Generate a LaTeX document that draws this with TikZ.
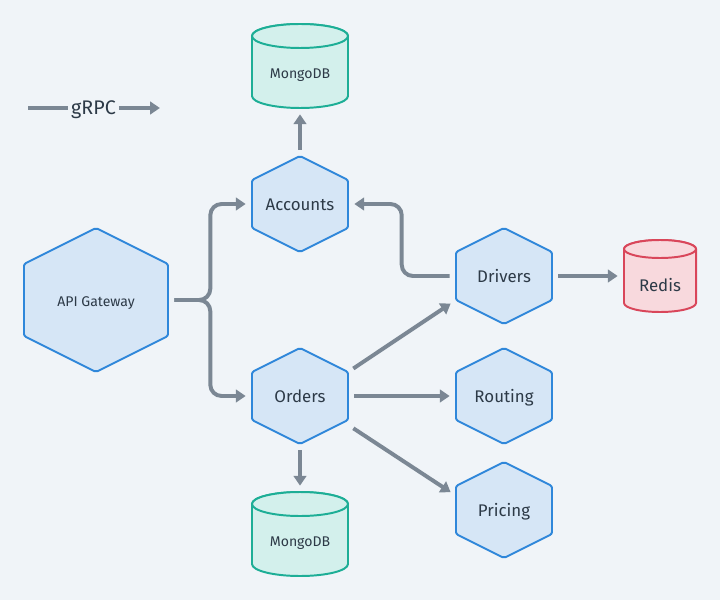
\documentclass[tikz,border=0pt]{standalone}
\usepackage{fontspec}
\setmainfont{Fira Sans}
\usetikzlibrary{calc,positioning,arrows.meta}

\definecolor{canvas}{HTML}{F0F4F8}
\definecolor{svcfill}{HTML}{D6E6F6}
\definecolor{svcline}{HTML}{2F87DA}
\definecolor{mongofill}{HTML}{D3F0EC}
\definecolor{mongoline}{HTML}{1DAE96}
\definecolor{redisfill}{HTML}{F8D9DD}
\definecolor{redisline}{HTML}{D9465A}
\definecolor{wire}{HTML}{7B8794}
\definecolor{ink}{HTML}{2D3A47}

\tikzset{
  hexline/.style={draw=svcline, fill=svcfill, line width=1.4pt, rounded corners=1.5pt, line join=round},
  mongodb/.style={draw=mongoline, fill=mongofill, line width=1.4pt},
  redisdb/.style={draw=redisline, fill=redisfill, line width=1.4pt},
  svc/.style={inner sep=0pt, minimum width=2.4cm, minimum height=2.4cm, text=ink, text height=0.93em, text depth=0pt, font=\fontsize{12}{14}\selectfont},
  db/.style={inner sep=0pt, minimum width=2.4cm, text=ink, text height=0.93em, text depth=0pt, font=\fontsize{10}{12}\selectfont},
  flow/.style={draw=wire, line width=2.8pt, -{Triangle[length=7pt,width=9pt]}, shorten <=4.3pt, shorten >=4.3pt, rounded corners=8pt}
}

\begin{document}
\begin{tikzpicture}[x=0.025cm, y=0.025cm]
  \fill[canvas] (0,0) rectangle (720,600);
  % services
  \foreach \cx/\cy/\r in {96/300/72, 300/396/48, 300/204/48, 504/324/48, 504/204/48, 504/90/48}
    \draw[hexline] (\cx,\cy+\r) -- (\cx+\r,\cy+\r/2) -- (\cx+\r,\cy-\r/2) -- (\cx,\cy-\r) -- (\cx-\r,\cy-\r/2) -- (\cx-\r,\cy+\r/2) -- cycle;
  % stores
  \foreach \cx/\ytop/\ybot/\rx/\ry/\kind in {300/564/504/48/12/mongodb, 300/96/36/48/12/mongodb, 660/351/297/36/9/redisdb} {
    \draw[\kind] (\cx-\rx,\ytop) -- (\cx-\rx,\ybot) arc[start angle=180, end angle=360, x radius={\rx*0.025cm}, y radius={\ry*0.025cm}] -- (\cx+\rx,\ytop) arc[start angle=0, end angle=180, x radius={\rx*0.025cm}, y radius={\ry*0.025cm}] -- cycle;
    \draw[\kind] (\cx,\ytop) ellipse[x radius={\rx*0.025cm}, y radius={\ry*0.025cm}];
  }

  \node[svc, minimum width=3.6cm, minimum height=3.6cm, font=\fontsize{10}{12}\selectfont] (gateway) at (96,300) {API Gateway};
  \node[svc] (accounts) at (300,396) {Accounts};
  \node[svc] (orders) at (300,204) {Orders};
  \node[svc] (drivers) at (504,324) {Drivers};
  \node[svc] (routing) at (504,204) {Routing};
  \node[svc] (pricing) at (504,90) {Pricing};
  \node[db, minimum height=1.8cm] (accountsdb) at (300,528) {MongoDB};
  \node[db, minimum height=2.4cm] (ordersdb) at (300,60) {MongoDB};
  \node[db, minimum width=1.8cm, font=\fontsize{12}{14}\selectfont] (cache) at (660,315) {Redis};

  % legend
  \node[text=ink, font=\fontsize{14}{16}\selectfont, text height=0.9em, text depth=0pt, inner sep=2pt] (grpc) at (93.5,492) {gRPC};
  \draw[draw=wire, line width=2.8pt] ($(grpc.west)+(-40,0)$) -- (grpc.west);
  \draw[flow, shorten <=0pt, shorten >=0pt] (grpc.east) -- ++(41,0);

  % calls
  \draw[flow] (accounts.north) -- (accountsdb.south);
  \draw[flow] (orders.south) -- (ordersdb.north);
  \draw[flow] (gateway.east) -- ($(gateway.east)+(42,0)$) |- (accounts.west);
  \draw[flow] (gateway.east) -- ($(gateway.east)+(42,0)$) |- (orders.west);
  \draw[flow] (drivers.west) -- ($(drivers.west)+(-54,0)$) |- (accounts.east);
  \draw[flow] (drivers.east) -- (drivers.east -| cache.west);
  \draw[flow] ($(orders.east)!0.5!(orders.north east)$) -- ($(drivers.west)!0.5!(drivers.south west)$);
  \draw[flow] (orders.east) -- (routing.west);
  \draw[flow] ($(orders.east)!0.6!(orders.south east)$) -- ($(pricing.west)!0.3!(pricing.north west)$);
\end{tikzpicture}
\end{document}
